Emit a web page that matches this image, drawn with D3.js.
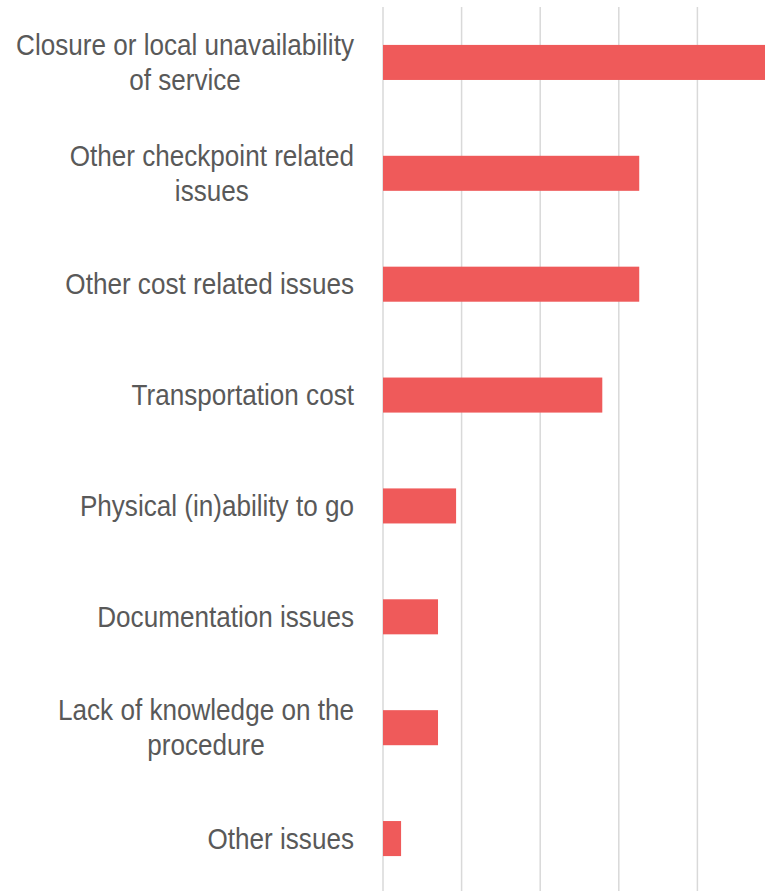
<!DOCTYPE html>
<html><head><meta charset="utf-8">
<script src="https://cdn.jsdelivr.net/npm/d3@7"></script>
<style>body{margin:0;background:#fff}</style>
</head><body>
<svg id="c" width="765" height="891"></svg>
<script>
const categories = [
  ["Closure or local unavailability","of service"],
  ["Other checkpoint related","issues"],
  ["Other cost related issues"],
  ["Transportation cost"],
  ["Physical (in)ability to go"],
  ["Documentation issues"],
  ["Lack of knowledge on the","procedure"],
  ["Other issues"]
];
const values = [48.8, 32.6, 32.6, 27.9, 9.3, 7.0, 7.0, 2.3];
const ticks = [0, 10, 20, 30, 40, 50];

const svg = d3.select("#c");
const x = d3.scaleLinear().domain([0, 50]).range([383, 776]);
const y = d3.scaleBand().domain(d3.range(categories.length)).range([7, 894]).paddingInner(0.684).paddingOuter(0.342);

svg.append("g").selectAll("line").data(ticks).join("line")
  .attr("x1", d => x(d)).attr("x2", d => x(d))
  .attr("y1", 7).attr("y2", 891)
  .attr("stroke", "#d9d9d9").attr("stroke-width", 1.5);

svg.append("g").selectAll("rect").data(values).join("rect")
  .attr("x", x(0)).attr("y", (d, i) => y(i))
  .attr("width", d => x(d) - x(0)).attr("height", y.bandwidth())
  .attr("fill", "#ef5a5a");

const fs = 29, lh = 35, right = 354, sx = 0.9;
const lg = svg.append("g").attr("font-family", "'Liberation Sans', Arial, sans-serif")
  .attr("font-size", fs).attr("fill", "#595959");
categories.forEach((lines, i) => {
  const cy = y(i) + y.bandwidth() / 2;
  const g = lg.append("g");
  const t = g.append("text").attr("text-anchor", "middle");
  lines.forEach((ln, j) => {
    t.append("tspan").attr("x", 0)
      .attr("y", cy + (j - (lines.length - 1) / 2) * lh)
      .attr("dy", "0.35em").text(ln);
  });
  let maxW = 0;
  t.selectAll("tspan").each(function(){ maxW = Math.max(maxW, this.getComputedTextLength()); });
  g.attr("transform", `translate(${right - maxW * sx / 2},0) scale(${sx},1)`);
});
</script>
</body></html>
